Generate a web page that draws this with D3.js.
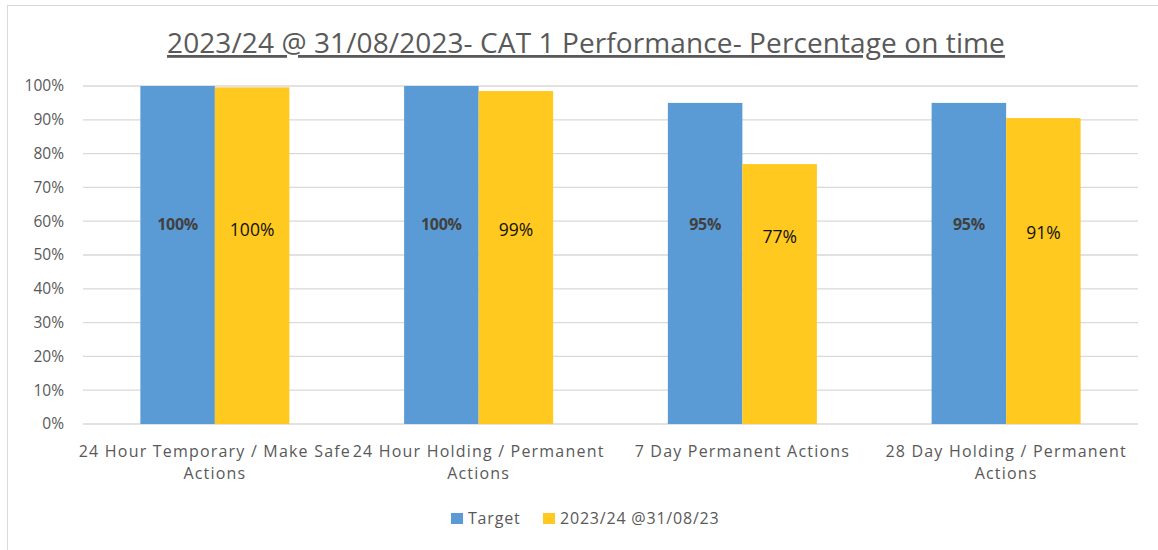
<!DOCTYPE html>
<html>
<head>
<meta charset="utf-8">
<script src="https://cdn.jsdelivr.net/npm/d3@7"></script>
<style>
    body { margin: 0; background: #fff; }
    svg { display: block; font-family: "Open Sans", sans-serif; }
</style>
</head>
<body>
<div class="chart"></div>
<script>
// chart data
const title = "2023/24 @ 31/08/2023- CAT 1 Performance- Percentage on time";
const categories = [
    ["24 Hour Temporary / Make Safe", "Actions"],
    ["24 Hour Holding / Permanent", "Actions"],
    ["7 Day Permanent Actions"],
    ["28 Day Holding / Permanent", "Actions"]
];
const seriesNames = ["Target", "2023/24 @31/08/23"];
const targetValues = [1.00, 1.00, 0.95, 0.95];
const actualValues = [0.996, 0.985, 0.769, 0.905];
const yTicks = [0, 0.1, 0.2, 0.3, 0.4, 0.5, 0.6, 0.7, 0.8, 0.9, 1.0];

let width = 1158, height = 550;
let margin = {top: 86, right: 20, bottom: 126, left: 83};
let innerW = width - margin.left - margin.right,
    innerH = height - margin.top - margin.bottom;

let svg = d3.select(".chart")
    .append("svg")
    .attr("width", width)
    .attr("height", height);

// outer frame
svg.append("rect")
    .attr("x", 7.5).attr("y", 5.5)
    .attr("width", width).attr("height", height)
    .attr("fill", "none")
    .attr("stroke", "#d9d9d9");

// title
svg.append("text")
    .attr("x", 586)
    .attr("y", 53)
    .attr("text-anchor", "middle")
    .style("font-size", "28px")
    .style("letter-spacing", "0.1px")
    .style("fill", "#595959")
    .style("text-decoration", "underline")
    .text(title);

let g = svg.append("g")
    .attr("transform", "translate(" + margin.left + "," + margin.top + ")");

let x = d3.scaleBand()
    .domain(d3.range(categories.length))
    .range([0, innerW])
    .paddingInner(0.435)
    .paddingOuter(0.2175);

let xSub = d3.scaleBand()
    .domain(seriesNames)
    .range([0, x.bandwidth()]);

let y = d3.scaleLinear()
    .domain([0, 1])
    .range([innerH, 0]);

// gridlines
g.append("g")
    .selectAll("line")
    .data(yTicks)
    .enter()
    .append("line")
    .attr("x1", 0)
    .attr("x2", innerW)
    .attr("y1", d => y(d))
    .attr("y2", d => y(d))
    .attr("stroke", "#d9d9d9")
    .attr("stroke-width", 1.3);

// y axis labels
g.append("g")
    .selectAll("text")
    .data(yTicks)
    .enter()
    .append("text")
    .attr("x", -19)
    .attr("y", d => y(d))
    .attr("dy", "0.35em")
    .attr("text-anchor", "end")
    .style("font-size", "15.5px")
    .style("fill", "#595959")
    .text(d3.format(".0%"));

// bars
let color = d3.scaleOrdinal()
    .domain(seriesNames)
    .range(["#5b9bd5", "#ffc91f"]);

let rows = categories.map((c, i) => ({
    i: i,
    values: [
        {key: seriesNames[0], value: targetValues[i]},
        {key: seriesNames[1], value: actualValues[i]}
    ]
}));

let groups = g.append("g")
    .selectAll("g")
    .data(rows)
    .enter()
    .append("g")
    .attr("transform", d => "translate(" + x(d.i) + ",0)");

groups.selectAll("rect")
    .data(d => d.values)
    .enter()
    .append("rect")
    .attr("x", d => xSub(d.key))
    .attr("y", d => y(d.value))
    .attr("width", xSub.bandwidth())
    .attr("height", d => innerH - y(d.value))
    .attr("fill", d => color(d.key));

// data labels (placed in the middle band of the plot like the original)
groups.selectAll("text.lbl")
    .data(d => d.values)
    .enter()
    .append("text")
    .attr("class", "lbl")
    .attr("x", d => xSub(d.key) + xSub.bandwidth() / 2)
    .attr("y", d => d.key === seriesNames[0] ? y(0.59) : y(0.575 - (1 - d.value) * 0.09))
    .attr("dy", "0.35em")
    .attr("text-anchor", "middle")
    .style("font-size", d => d.key === seriesNames[0] ? "16px" : "17.5px")
    .style("font-weight", d => d.key === seriesNames[0] ? "bold" : "normal")
    .style("letter-spacing", d => d.key === seriesNames[0] ? "-0.3px" : "0px")
    .style("fill", d => d.key === seriesNames[0] ? "#404040" : "#111")
    .text(d => d3.format(".0%")(d.value));

// category labels
let cat = g.append("g")
    .selectAll("text")
    .data(categories)
    .enter()
    .append("text")
    .attr("x", (d, i) => x(i) + x.bandwidth() / 2)
    .attr("y", innerH + 33)
    .attr("text-anchor", "middle")
    .style("font-size", "16px")
    .style("letter-spacing", "1.2px")
    .style("fill", "#595959");

cat.selectAll("tspan")
    .data(d => d)
    .enter()
    .append("tspan")
    .attr("x", function() { return d3.select(this.parentNode).attr("x"); })
    .attr("dy", (d, i) => i === 0 ? 0 : 22)
    .text(d => d);

// legend
let legend = svg.append("g")
    .attr("transform", "translate(451,513)");

let legendX = [0, 92];
seriesNames.forEach((name, i) => {
    let item = legend.append("g")
        .attr("transform", "translate(" + legendX[i] + ",0)");
    item.append("rect")
        .attr("width", 12)
        .attr("height", 11)
        .attr("fill", color(name));
    item.append("text")
        .attr("x", 17)
        .attr("y", 11)
        .style("font-size", "16px")
        .style("letter-spacing", "0.8px")
        .style("fill", "#595959")
        .text(name);
});
</script>
</body>
</html>
